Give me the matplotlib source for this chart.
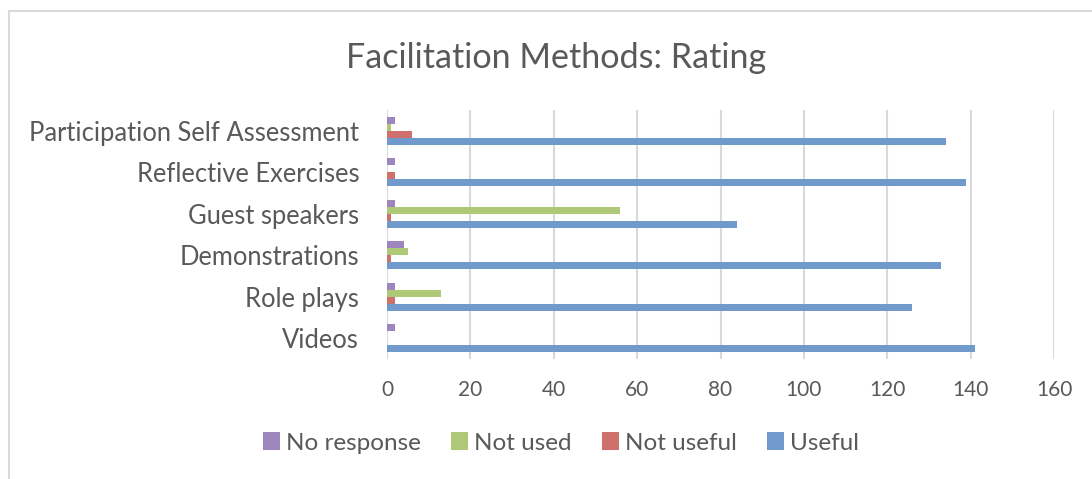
import numpy as np
import matplotlib
matplotlib.use("Agg")
from matplotlib import pyplot as plt
from matplotlib.patches import Patch
from matplotlib.lines import Line2D

# data (bottom to top, as drawn)
methods = ['Videos', 'Role plays', 'Demonstrations', 'Guest speakers',
           'Reflective Exercises', 'Participation Self Assessment']
useful = [141, 126, 133, 84, 139, 134]
not_useful = [0, 2, 1, 1, 2, 6]
not_used = [0, 13, 5, 56, 0, 1]
no_response = [2, 2, 4, 2, 2, 2]

series = ['Useful', 'Not useful', 'Not used', 'No response']
colors = ['#7099CC', '#CF706D', '#ADC978', '#9C86BD']
values = [useful, not_useful, not_used, no_response]

plt.rcParams['font.family'] = ['Lato', 'DejaVu Sans']
text_col = '#595959'

fig = plt.figure(figsize=(10.92, 4.79), dpi=100)
ax = fig.add_axes([387 / 1092, 1 - 359 / 479, (1054 - 387) / 1092, (359 - 110) / 479])

y = np.arange(len(methods))
h = 0.17
for k in range(len(series)):
    ax.barh(y + (k - 1.5) * h, values[k], height=h, color=colors[k],
            edgecolor='none', zorder=3)

ax.set_xlim(0, 160)
ax.set_ylim(-0.5, len(methods) - 0.5)
ax.set_xticks(np.arange(0, 161, 20))
ax.set_yticks(y)
ax.set_yticklabels(methods)
ax.tick_params(axis='both', length=0, colors=text_col, labelsize=15)
ax.tick_params(axis='y', pad=20, labelsize=18.4)
ax.tick_params(axis='x', pad=15)
ax.grid(axis='x', color='#D9D9D9', linewidth=1.5, zorder=0)
for s in ax.spines.values():
    s.set_visible(False)

fig.text(556 / 1092, 1 - 58 / 479, 'Facilitation Methods: Rating',
         ha='center', va='center', fontsize=24.6, color=text_col)

handles = [Patch(facecolor=colors[k], edgecolor='none') for k in [3, 2, 1, 0]]
labels = [series[k] for k in [3, 2, 1, 0]]
fig.legend(handles, labels, loc='center', bbox_to_anchor=(561 / 1092, 1 - 443 / 479),
           ncol=4, frameon=False, fontsize=17.5, labelcolor=text_col,
           handlelength=0.7, handleheight=0.7, handletextpad=0.25, columnspacing=1.25)

# chart frame (top and left edges visible)
fig.add_artist(Line2D([9 / 1092, 9 / 1092], [0, 1 - 11 / 479], color='#D9D9D9', lw=1.5))
fig.add_artist(Line2D([9 / 1092, 1], [1 - 11 / 479, 1 - 11 / 479], color='#D9D9D9', lw=1.5))

fig.savefig('out.png', dpi=100)
